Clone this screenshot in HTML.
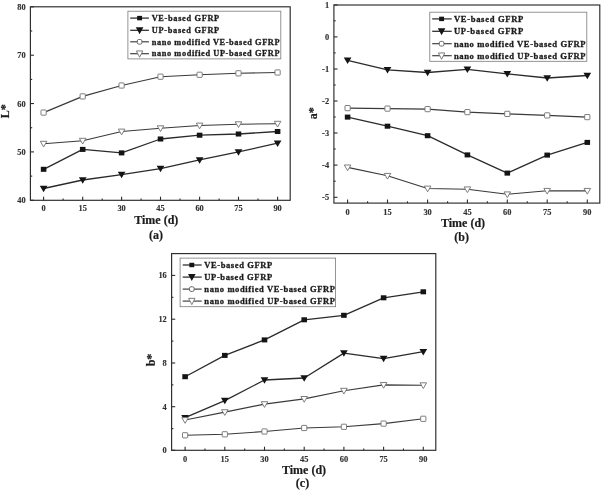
<!DOCTYPE html>
<html><head><meta charset="utf-8"><title>Figure</title>
<style>
html,body{margin:0;padding:0;background:#fff;}
svg{display:block;font-family:"Liberation Serif", "DejaVu Serif", serif;filter:blur(0.35px);}
</style></head><body>
<svg width="602" height="491" viewBox="0 0 602 491">
<rect x="0" y="0" width="602" height="491" fill="#fff"/>
<rect x="30.4" y="6.8" width="259.80" height="193.50" fill="none" stroke="#2b2b2b" stroke-width="1.15"/>
<line x1="43.60" y1="200.3" x2="43.60" y2="196.70000000000002" stroke="#2b2b2b" stroke-width="1.1"/>
<text transform="translate(43.60,211.00) scale(1.12,1)" font-size="7.5" text-anchor="middle" font-weight="bold" fill="#303030" stroke="#303030" stroke-width="0.12" >0</text>
<line x1="63.10" y1="200.3" x2="63.10" y2="198.5" stroke="#2b2b2b" stroke-width="1.1"/>
<line x1="82.70" y1="200.3" x2="82.70" y2="196.70000000000002" stroke="#2b2b2b" stroke-width="1.1"/>
<text transform="translate(82.70,211.00) scale(1.12,1)" font-size="7.5" text-anchor="middle" font-weight="bold" fill="#303030" stroke="#303030" stroke-width="0.12" >15</text>
<line x1="102.20" y1="200.3" x2="102.20" y2="198.5" stroke="#2b2b2b" stroke-width="1.1"/>
<line x1="121.60" y1="200.3" x2="121.60" y2="196.70000000000002" stroke="#2b2b2b" stroke-width="1.1"/>
<text transform="translate(121.60,211.00) scale(1.12,1)" font-size="7.5" text-anchor="middle" font-weight="bold" fill="#303030" stroke="#303030" stroke-width="0.12" >30</text>
<line x1="141.10" y1="200.3" x2="141.10" y2="198.5" stroke="#2b2b2b" stroke-width="1.1"/>
<line x1="160.50" y1="200.3" x2="160.50" y2="196.70000000000002" stroke="#2b2b2b" stroke-width="1.1"/>
<text transform="translate(160.50,211.00) scale(1.12,1)" font-size="7.5" text-anchor="middle" font-weight="bold" fill="#303030" stroke="#303030" stroke-width="0.12" >45</text>
<line x1="180.00" y1="200.3" x2="180.00" y2="198.5" stroke="#2b2b2b" stroke-width="1.1"/>
<line x1="199.60" y1="200.3" x2="199.60" y2="196.70000000000002" stroke="#2b2b2b" stroke-width="1.1"/>
<text transform="translate(199.60,211.00) scale(1.12,1)" font-size="7.5" text-anchor="middle" font-weight="bold" fill="#303030" stroke="#303030" stroke-width="0.12" >60</text>
<line x1="219.10" y1="200.3" x2="219.10" y2="198.5" stroke="#2b2b2b" stroke-width="1.1"/>
<line x1="238.50" y1="200.3" x2="238.50" y2="196.70000000000002" stroke="#2b2b2b" stroke-width="1.1"/>
<text transform="translate(238.50,211.00) scale(1.12,1)" font-size="7.5" text-anchor="middle" font-weight="bold" fill="#303030" stroke="#303030" stroke-width="0.12" >75</text>
<line x1="258.00" y1="200.3" x2="258.00" y2="198.5" stroke="#2b2b2b" stroke-width="1.1"/>
<line x1="277.60" y1="200.3" x2="277.60" y2="196.70000000000002" stroke="#2b2b2b" stroke-width="1.1"/>
<text transform="translate(277.60,211.00) scale(1.12,1)" font-size="7.5" text-anchor="middle" font-weight="bold" fill="#303030" stroke="#303030" stroke-width="0.12" >90</text>
<line x1="30.4" y1="6.80" x2="34.0" y2="6.80" stroke="#2b2b2b" stroke-width="1.1"/>
<text transform="translate(25.60,9.80) scale(1.12,1)" font-size="7.5" text-anchor="end" font-weight="bold" fill="#303030" stroke="#303030" stroke-width="0.12" >80</text>
<line x1="30.4" y1="55.20" x2="34.0" y2="55.20" stroke="#2b2b2b" stroke-width="1.1"/>
<text transform="translate(25.60,58.20) scale(1.12,1)" font-size="7.5" text-anchor="end" font-weight="bold" fill="#303030" stroke="#303030" stroke-width="0.12" >70</text>
<line x1="30.4" y1="103.55" x2="34.0" y2="103.55" stroke="#2b2b2b" stroke-width="1.1"/>
<text transform="translate(25.60,106.55) scale(1.12,1)" font-size="7.5" text-anchor="end" font-weight="bold" fill="#303030" stroke="#303030" stroke-width="0.12" >60</text>
<line x1="30.4" y1="151.90" x2="34.0" y2="151.90" stroke="#2b2b2b" stroke-width="1.1"/>
<text transform="translate(25.60,154.90) scale(1.12,1)" font-size="7.5" text-anchor="end" font-weight="bold" fill="#303030" stroke="#303030" stroke-width="0.12" >50</text>
<line x1="30.4" y1="200.30" x2="34.0" y2="200.30" stroke="#2b2b2b" stroke-width="1.1"/>
<text transform="translate(25.60,203.30) scale(1.12,1)" font-size="7.5" text-anchor="end" font-weight="bold" fill="#303030" stroke="#303030" stroke-width="0.12" >40</text>
<line x1="30.4" y1="31.00" x2="32.199999999999996" y2="31.00" stroke="#2b2b2b" stroke-width="1.1"/>
<line x1="30.4" y1="79.40" x2="32.199999999999996" y2="79.40" stroke="#2b2b2b" stroke-width="1.1"/>
<line x1="30.4" y1="127.75" x2="32.199999999999996" y2="127.75" stroke="#2b2b2b" stroke-width="1.1"/>
<line x1="30.4" y1="176.10" x2="32.199999999999996" y2="176.10" stroke="#2b2b2b" stroke-width="1.1"/>
<polyline points="43.60,169.30 82.70,149.40 121.60,152.90 160.50,139.00 199.60,135.20 238.50,134.00 277.60,131.50" fill="none" stroke="#2b2b2b" stroke-width="1.3" stroke-linejoin="round"/>
<rect x="40.82" y="166.78" width="5.56" height="5.04" fill="#141414"/>
<rect x="79.92" y="146.88" width="5.56" height="5.04" fill="#141414"/>
<rect x="118.82" y="150.38" width="5.56" height="5.04" fill="#141414"/>
<rect x="157.72" y="136.48" width="5.56" height="5.04" fill="#141414"/>
<rect x="196.82" y="132.68" width="5.56" height="5.04" fill="#141414"/>
<rect x="235.72" y="131.48" width="5.56" height="5.04" fill="#141414"/>
<rect x="274.82" y="128.98" width="5.56" height="5.04" fill="#141414"/>
<polyline points="43.60,188.50 82.70,180.00 121.60,174.60 160.50,168.60 199.60,159.90 238.50,151.90 277.60,143.20" fill="none" stroke="#2b2b2b" stroke-width="1.3" stroke-linejoin="round"/>
<polygon points="39.75,185.77 47.45,185.77 43.60,192.27" fill="#141414"/>
<polygon points="78.85,177.27 86.55,177.27 82.70,183.77" fill="#141414"/>
<polygon points="117.75,171.87 125.45,171.87 121.60,178.37" fill="#141414"/>
<polygon points="156.65,165.87 164.35,165.87 160.50,172.37" fill="#141414"/>
<polygon points="195.75,157.17 203.45,157.17 199.60,163.67" fill="#141414"/>
<polygon points="234.65,149.17 242.35,149.17 238.50,155.67" fill="#141414"/>
<polygon points="273.75,140.47 281.45,140.47 277.60,146.97" fill="#141414"/>
<polyline points="43.60,112.60 82.70,96.40 121.60,85.50 160.50,76.70 199.60,74.80 238.50,73.30 277.60,72.50" fill="none" stroke="#3a3a3a" stroke-width="1.15" stroke-linejoin="round"/>
<rect x="41.00" y="110.00" width="5.20" height="5.20" rx="0.5" fill="#fff" stroke="#777" stroke-width="0.95"/>
<rect x="80.10" y="93.80" width="5.20" height="5.20" rx="0.5" fill="#fff" stroke="#777" stroke-width="0.95"/>
<rect x="119.00" y="82.90" width="5.20" height="5.20" rx="0.5" fill="#fff" stroke="#777" stroke-width="0.95"/>
<rect x="157.90" y="74.10" width="5.20" height="5.20" rx="0.5" fill="#fff" stroke="#777" stroke-width="0.95"/>
<rect x="197.00" y="72.20" width="5.20" height="5.20" rx="0.5" fill="#fff" stroke="#777" stroke-width="0.95"/>
<rect x="235.90" y="70.70" width="5.20" height="5.20" rx="0.5" fill="#fff" stroke="#777" stroke-width="0.95"/>
<rect x="275.00" y="69.90" width="5.20" height="5.20" rx="0.5" fill="#fff" stroke="#777" stroke-width="0.95"/>
<polyline points="43.60,143.70 82.70,140.70 121.60,131.50 160.50,128.20 199.60,125.50 238.50,124.20 277.60,123.70" fill="none" stroke="#3a3a3a" stroke-width="1.15" stroke-linejoin="round"/>
<polygon points="40.30,141.31 46.90,141.31 43.60,147.01" fill="#fff" stroke="#777" stroke-width="0.95"/>
<polygon points="79.40,138.31 86.00,138.31 82.70,144.01" fill="#fff" stroke="#777" stroke-width="0.95"/>
<polygon points="118.30,129.11 124.90,129.11 121.60,134.81" fill="#fff" stroke="#777" stroke-width="0.95"/>
<polygon points="157.20,125.81 163.80,125.81 160.50,131.51" fill="#fff" stroke="#777" stroke-width="0.95"/>
<polygon points="196.30,123.11 202.90,123.11 199.60,128.81" fill="#fff" stroke="#777" stroke-width="0.95"/>
<polygon points="235.20,121.81 241.80,121.81 238.50,127.51" fill="#fff" stroke="#777" stroke-width="0.95"/>
<polygon points="274.30,121.31 280.90,121.31 277.60,127.01" fill="#fff" stroke="#777" stroke-width="0.95"/>
<rect x="127.9" y="11.2" width="152.90" height="47.70" fill="#fff" stroke="#7a7a7a" stroke-width="0.8"/>
<line x1="130.2" y1="18.10" x2="148.9" y2="18.10" stroke="#2b2b2b" stroke-width="1.25"/>
<rect x="137.14" y="15.87" width="4.92" height="4.46" fill="#141414"/>
<text transform="translate(151.70,20.84) scale(1.0,1)" font-size="8.3" text-anchor="start" font-weight="bold" fill="#1c1c1c" stroke="#1c1c1c" stroke-width="0.3" textLength="67.5" lengthAdjust="spacing">VE-based GFRP</text>
<line x1="130.2" y1="30.30" x2="148.9" y2="30.30" stroke="#2b2b2b" stroke-width="1.25"/>
<polygon points="135.80,27.16 143.40,27.16 139.60,34.16" fill="#141414"/>
<text transform="translate(151.70,33.04) scale(1.0,1)" font-size="8.3" text-anchor="start" font-weight="bold" fill="#1c1c1c" stroke="#1c1c1c" stroke-width="0.3" textLength="67.5" lengthAdjust="spacing">UP-based GFRP</text>
<line x1="130.2" y1="41.80" x2="148.9" y2="41.80" stroke="#3a3a3a" stroke-width="1.15"/>
<rect x="137.30" y="39.50" width="4.6" height="4.6" rx="1.4" fill="#fff" stroke="#5a5a5a" stroke-width="0.9"/>
<text transform="translate(151.70,44.54) scale(1.0,1)" font-size="8.3" text-anchor="start" font-weight="bold" fill="#1c1c1c" stroke="#1c1c1c" stroke-width="0.3" textLength="127.8" lengthAdjust="spacing">nano modified VE-based GFRP</text>
<line x1="130.2" y1="53.70" x2="148.9" y2="53.70" stroke="#3a3a3a" stroke-width="1.15"/>
<polygon points="136.40,50.95 142.80,50.95 139.60,57.25" fill="#fff" stroke="#777" stroke-width="0.95"/>
<text transform="translate(151.70,56.44) scale(1.0,1)" font-size="8.3" text-anchor="start" font-weight="bold" fill="#1c1c1c" stroke="#1c1c1c" stroke-width="0.3" textLength="127.8" lengthAdjust="spacing">nano modified UP-based GFRP</text>
<text transform="translate(156.30,223.70) scale(1.0,1)" font-size="12" text-anchor="middle" font-weight="bold" fill="#1c1c1c" stroke="#1c1c1c" stroke-width="0.2" >Time (d)</text>
<text transform="translate(156.00,238.80) scale(1.0,1)" font-size="12" text-anchor="middle" font-weight="bold" fill="#1c1c1c" stroke="#1c1c1c" stroke-width="0.2" >(a)</text>
<text transform="translate(9.4,111.3) rotate(-90)" font-size="12" font-weight="bold" text-anchor="middle" fill="#1c1c1c" stroke="#1c1c1c" stroke-width="0.2">L*</text>
<rect x="333.9" y="5.0" width="265.90" height="198.10" fill="none" stroke="#2b2b2b" stroke-width="1.15"/>
<line x1="347.60" y1="203.1" x2="347.60" y2="199.5" stroke="#2b2b2b" stroke-width="1.1"/>
<text transform="translate(347.60,215.00) scale(1.12,1)" font-size="7.5" text-anchor="middle" font-weight="bold" fill="#303030" stroke="#303030" stroke-width="0.12" >0</text>
<line x1="367.58" y1="203.1" x2="367.58" y2="201.29999999999998" stroke="#2b2b2b" stroke-width="1.1"/>
<line x1="387.50" y1="203.1" x2="387.50" y2="199.5" stroke="#2b2b2b" stroke-width="1.1"/>
<text transform="translate(387.50,215.00) scale(1.12,1)" font-size="7.5" text-anchor="middle" font-weight="bold" fill="#303030" stroke="#303030" stroke-width="0.12" >15</text>
<line x1="407.48" y1="203.1" x2="407.48" y2="201.29999999999998" stroke="#2b2b2b" stroke-width="1.1"/>
<line x1="427.60" y1="203.1" x2="427.60" y2="199.5" stroke="#2b2b2b" stroke-width="1.1"/>
<text transform="translate(427.60,215.00) scale(1.12,1)" font-size="7.5" text-anchor="middle" font-weight="bold" fill="#303030" stroke="#303030" stroke-width="0.12" >30</text>
<line x1="447.58" y1="203.1" x2="447.58" y2="201.29999999999998" stroke="#2b2b2b" stroke-width="1.1"/>
<line x1="467.40" y1="203.1" x2="467.40" y2="199.5" stroke="#2b2b2b" stroke-width="1.1"/>
<text transform="translate(467.40,215.00) scale(1.12,1)" font-size="7.5" text-anchor="middle" font-weight="bold" fill="#303030" stroke="#303030" stroke-width="0.12" >45</text>
<line x1="487.38" y1="203.1" x2="487.38" y2="201.29999999999998" stroke="#2b2b2b" stroke-width="1.1"/>
<line x1="507.30" y1="203.1" x2="507.30" y2="199.5" stroke="#2b2b2b" stroke-width="1.1"/>
<text transform="translate(507.30,215.00) scale(1.12,1)" font-size="7.5" text-anchor="middle" font-weight="bold" fill="#303030" stroke="#303030" stroke-width="0.12" >60</text>
<line x1="527.27" y1="203.1" x2="527.27" y2="201.29999999999998" stroke="#2b2b2b" stroke-width="1.1"/>
<line x1="547.20" y1="203.1" x2="547.20" y2="199.5" stroke="#2b2b2b" stroke-width="1.1"/>
<text transform="translate(547.20,215.00) scale(1.12,1)" font-size="7.5" text-anchor="middle" font-weight="bold" fill="#303030" stroke="#303030" stroke-width="0.12" >75</text>
<line x1="567.18" y1="203.1" x2="567.18" y2="201.29999999999998" stroke="#2b2b2b" stroke-width="1.1"/>
<line x1="587.30" y1="203.1" x2="587.30" y2="199.5" stroke="#2b2b2b" stroke-width="1.1"/>
<text transform="translate(587.30,215.00) scale(1.12,1)" font-size="7.5" text-anchor="middle" font-weight="bold" fill="#303030" stroke="#303030" stroke-width="0.12" >90</text>
<line x1="333.9" y1="5.00" x2="337.5" y2="5.00" stroke="#2b2b2b" stroke-width="1.1"/>
<text transform="translate(329.10,8.00) scale(1.12,1)" font-size="7.5" text-anchor="end" font-weight="bold" fill="#303030" stroke="#303030" stroke-width="0.12" >1</text>
<line x1="333.9" y1="36.90" x2="337.5" y2="36.90" stroke="#2b2b2b" stroke-width="1.1"/>
<text transform="translate(329.10,39.90) scale(1.12,1)" font-size="7.5" text-anchor="end" font-weight="bold" fill="#303030" stroke="#303030" stroke-width="0.12" >0</text>
<line x1="333.9" y1="69.00" x2="337.5" y2="69.00" stroke="#2b2b2b" stroke-width="1.1"/>
<text transform="translate(329.10,72.00) scale(1.12,1)" font-size="7.5" text-anchor="end" font-weight="bold" fill="#303030" stroke="#303030" stroke-width="0.12" >-1</text>
<line x1="333.9" y1="101.00" x2="337.5" y2="101.00" stroke="#2b2b2b" stroke-width="1.1"/>
<text transform="translate(329.10,104.00) scale(1.12,1)" font-size="7.5" text-anchor="end" font-weight="bold" fill="#303030" stroke="#303030" stroke-width="0.12" >-2</text>
<line x1="333.9" y1="133.00" x2="337.5" y2="133.00" stroke="#2b2b2b" stroke-width="1.1"/>
<text transform="translate(329.10,136.00) scale(1.12,1)" font-size="7.5" text-anchor="end" font-weight="bold" fill="#303030" stroke="#303030" stroke-width="0.12" >-3</text>
<line x1="333.9" y1="165.10" x2="337.5" y2="165.10" stroke="#2b2b2b" stroke-width="1.1"/>
<text transform="translate(329.10,168.10) scale(1.12,1)" font-size="7.5" text-anchor="end" font-weight="bold" fill="#303030" stroke="#303030" stroke-width="0.12" >-4</text>
<line x1="333.9" y1="197.30" x2="337.5" y2="197.30" stroke="#2b2b2b" stroke-width="1.1"/>
<text transform="translate(329.10,200.30) scale(1.12,1)" font-size="7.5" text-anchor="end" font-weight="bold" fill="#303030" stroke="#303030" stroke-width="0.12" >-5</text>
<line x1="333.9" y1="20.80" x2="335.7" y2="20.80" stroke="#2b2b2b" stroke-width="1.1"/>
<line x1="333.9" y1="52.90" x2="335.7" y2="52.90" stroke="#2b2b2b" stroke-width="1.1"/>
<line x1="333.9" y1="85.00" x2="335.7" y2="85.00" stroke="#2b2b2b" stroke-width="1.1"/>
<line x1="333.9" y1="117.00" x2="335.7" y2="117.00" stroke="#2b2b2b" stroke-width="1.1"/>
<line x1="333.9" y1="149.00" x2="335.7" y2="149.00" stroke="#2b2b2b" stroke-width="1.1"/>
<line x1="333.9" y1="181.20" x2="335.7" y2="181.20" stroke="#2b2b2b" stroke-width="1.1"/>
<polyline points="347.60,60.30 387.50,69.80 427.60,72.50 467.40,69.30 507.30,73.80 547.20,78.00 587.30,75.50" fill="none" stroke="#2b2b2b" stroke-width="1.3" stroke-linejoin="round"/>
<polygon points="343.75,57.57 351.45,57.57 347.60,64.07" fill="#141414"/>
<polygon points="383.65,67.07 391.35,67.07 387.50,73.57" fill="#141414"/>
<polygon points="423.75,69.77 431.45,69.77 427.60,76.27" fill="#141414"/>
<polygon points="463.55,66.57 471.25,66.57 467.40,73.07" fill="#141414"/>
<polygon points="503.45,71.07 511.15,71.07 507.30,77.57" fill="#141414"/>
<polygon points="543.35,75.27 551.05,75.27 547.20,81.77" fill="#141414"/>
<polygon points="583.45,72.77 591.15,72.77 587.30,79.27" fill="#141414"/>
<polyline points="347.60,108.10 387.50,108.60 427.60,109.10 467.40,112.10 507.30,113.90 547.20,115.40 587.30,117.10" fill="none" stroke="#3a3a3a" stroke-width="1.15" stroke-linejoin="round"/>
<rect x="345.00" y="105.50" width="5.20" height="5.20" rx="0.5" fill="#fff" stroke="#777" stroke-width="0.95"/>
<rect x="384.90" y="106.00" width="5.20" height="5.20" rx="0.5" fill="#fff" stroke="#777" stroke-width="0.95"/>
<rect x="425.00" y="106.50" width="5.20" height="5.20" rx="0.5" fill="#fff" stroke="#777" stroke-width="0.95"/>
<rect x="464.80" y="109.50" width="5.20" height="5.20" rx="0.5" fill="#fff" stroke="#777" stroke-width="0.95"/>
<rect x="504.70" y="111.30" width="5.20" height="5.20" rx="0.5" fill="#fff" stroke="#777" stroke-width="0.95"/>
<rect x="544.60" y="112.80" width="5.20" height="5.20" rx="0.5" fill="#fff" stroke="#777" stroke-width="0.95"/>
<rect x="584.70" y="114.50" width="5.20" height="5.20" rx="0.5" fill="#fff" stroke="#777" stroke-width="0.95"/>
<polyline points="347.60,117.10 387.50,126.20 427.60,135.70 467.40,154.90 507.30,173.10 547.20,155.10 587.30,142.40" fill="none" stroke="#2b2b2b" stroke-width="1.3" stroke-linejoin="round"/>
<rect x="344.82" y="114.58" width="5.56" height="5.04" fill="#141414"/>
<rect x="384.72" y="123.68" width="5.56" height="5.04" fill="#141414"/>
<rect x="424.82" y="133.18" width="5.56" height="5.04" fill="#141414"/>
<rect x="464.62" y="152.38" width="5.56" height="5.04" fill="#141414"/>
<rect x="504.52" y="170.58" width="5.56" height="5.04" fill="#141414"/>
<rect x="544.42" y="152.58" width="5.56" height="5.04" fill="#141414"/>
<rect x="584.52" y="139.88" width="5.56" height="5.04" fill="#141414"/>
<polyline points="347.60,167.40 387.50,175.80 427.60,188.50 467.40,189.30 507.30,194.30 547.20,190.80 587.30,190.80" fill="none" stroke="#3a3a3a" stroke-width="1.15" stroke-linejoin="round"/>
<polygon points="344.30,165.01 350.90,165.01 347.60,170.71" fill="#fff" stroke="#777" stroke-width="0.95"/>
<polygon points="384.20,173.41 390.80,173.41 387.50,179.11" fill="#fff" stroke="#777" stroke-width="0.95"/>
<polygon points="424.30,186.11 430.90,186.11 427.60,191.81" fill="#fff" stroke="#777" stroke-width="0.95"/>
<polygon points="464.10,186.91 470.70,186.91 467.40,192.61" fill="#fff" stroke="#777" stroke-width="0.95"/>
<polygon points="504.00,191.91 510.60,191.91 507.30,197.61" fill="#fff" stroke="#777" stroke-width="0.95"/>
<polygon points="543.90,188.41 550.50,188.41 547.20,194.11" fill="#fff" stroke="#777" stroke-width="0.95"/>
<polygon points="584.00,188.41 590.60,188.41 587.30,194.11" fill="#fff" stroke="#777" stroke-width="0.95"/>
<rect x="429.8" y="12.2" width="157.00" height="49.10" fill="#fff" stroke="#7a7a7a" stroke-width="0.8"/>
<line x1="432.2" y1="18.90" x2="451.7" y2="18.90" stroke="#2b2b2b" stroke-width="1.25"/>
<rect x="439.14" y="16.67" width="4.92" height="4.46" fill="#141414"/>
<text transform="translate(453.90,21.74) scale(1.0,1)" font-size="8.6" text-anchor="start" font-weight="bold" fill="#1c1c1c" stroke="#1c1c1c" stroke-width="0.3" textLength="69.4" lengthAdjust="spacing">VE-based GFRP</text>
<line x1="432.2" y1="31.30" x2="451.7" y2="31.30" stroke="#2b2b2b" stroke-width="1.25"/>
<polygon points="437.80,28.16 445.40,28.16 441.60,35.16" fill="#141414"/>
<text transform="translate(453.90,34.14) scale(1.0,1)" font-size="8.6" text-anchor="start" font-weight="bold" fill="#1c1c1c" stroke="#1c1c1c" stroke-width="0.3" textLength="69.4" lengthAdjust="spacing">UP-based GFRP</text>
<line x1="432.2" y1="43.70" x2="451.7" y2="43.70" stroke="#3a3a3a" stroke-width="1.15"/>
<rect x="439.30" y="41.40" width="4.6" height="4.6" rx="1.4" fill="#fff" stroke="#5a5a5a" stroke-width="0.9"/>
<text transform="translate(453.90,46.54) scale(1.0,1)" font-size="8.6" text-anchor="start" font-weight="bold" fill="#1c1c1c" stroke="#1c1c1c" stroke-width="0.3" textLength="131.7" lengthAdjust="spacing">nano modified VE-based GFRP</text>
<line x1="432.2" y1="55.70" x2="451.7" y2="55.70" stroke="#3a3a3a" stroke-width="1.15"/>
<polygon points="438.40,52.95 444.80,52.95 441.60,59.25" fill="#fff" stroke="#777" stroke-width="0.95"/>
<text transform="translate(453.90,58.54) scale(1.0,1)" font-size="8.6" text-anchor="start" font-weight="bold" fill="#1c1c1c" stroke="#1c1c1c" stroke-width="0.3" textLength="131.7" lengthAdjust="spacing">nano modified UP-based GFRP</text>
<text transform="translate(463.00,226.50) scale(1.0,1)" font-size="12" text-anchor="middle" font-weight="bold" fill="#1c1c1c" stroke="#1c1c1c" stroke-width="0.2" >Time (d)</text>
<text transform="translate(461.70,240.50) scale(1.0,1)" font-size="12" text-anchor="middle" font-weight="bold" fill="#1c1c1c" stroke="#1c1c1c" stroke-width="0.2" >(b)</text>
<text transform="translate(317.0,113.3) rotate(-90)" font-size="12" font-weight="bold" text-anchor="middle" fill="#1c1c1c" stroke="#1c1c1c" stroke-width="0.2">a*</text>
<rect x="171.6" y="253.6" width="264.20" height="196.70" fill="none" stroke="#2b2b2b" stroke-width="1.15"/>
<line x1="185.10" y1="450.3" x2="185.10" y2="446.7" stroke="#2b2b2b" stroke-width="1.1"/>
<text transform="translate(185.10,462.00) scale(1.12,1)" font-size="7.5" text-anchor="middle" font-weight="bold" fill="#303030" stroke="#303030" stroke-width="0.12" >0</text>
<line x1="204.95" y1="450.3" x2="204.95" y2="448.5" stroke="#2b2b2b" stroke-width="1.1"/>
<line x1="224.80" y1="450.3" x2="224.80" y2="446.7" stroke="#2b2b2b" stroke-width="1.1"/>
<text transform="translate(224.80,462.00) scale(1.12,1)" font-size="7.5" text-anchor="middle" font-weight="bold" fill="#303030" stroke="#303030" stroke-width="0.12" >15</text>
<line x1="244.65" y1="450.3" x2="244.65" y2="448.5" stroke="#2b2b2b" stroke-width="1.1"/>
<line x1="264.50" y1="450.3" x2="264.50" y2="446.7" stroke="#2b2b2b" stroke-width="1.1"/>
<text transform="translate(264.50,462.00) scale(1.12,1)" font-size="7.5" text-anchor="middle" font-weight="bold" fill="#303030" stroke="#303030" stroke-width="0.12" >30</text>
<line x1="284.35" y1="450.3" x2="284.35" y2="448.5" stroke="#2b2b2b" stroke-width="1.1"/>
<line x1="304.20" y1="450.3" x2="304.20" y2="446.7" stroke="#2b2b2b" stroke-width="1.1"/>
<text transform="translate(304.20,462.00) scale(1.12,1)" font-size="7.5" text-anchor="middle" font-weight="bold" fill="#303030" stroke="#303030" stroke-width="0.12" >45</text>
<line x1="324.05" y1="450.3" x2="324.05" y2="448.5" stroke="#2b2b2b" stroke-width="1.1"/>
<line x1="343.90" y1="450.3" x2="343.90" y2="446.7" stroke="#2b2b2b" stroke-width="1.1"/>
<text transform="translate(343.90,462.00) scale(1.12,1)" font-size="7.5" text-anchor="middle" font-weight="bold" fill="#303030" stroke="#303030" stroke-width="0.12" >60</text>
<line x1="363.75" y1="450.3" x2="363.75" y2="448.5" stroke="#2b2b2b" stroke-width="1.1"/>
<line x1="383.60" y1="450.3" x2="383.60" y2="446.7" stroke="#2b2b2b" stroke-width="1.1"/>
<text transform="translate(383.60,462.00) scale(1.12,1)" font-size="7.5" text-anchor="middle" font-weight="bold" fill="#303030" stroke="#303030" stroke-width="0.12" >75</text>
<line x1="403.45" y1="450.3" x2="403.45" y2="448.5" stroke="#2b2b2b" stroke-width="1.1"/>
<line x1="423.30" y1="450.3" x2="423.30" y2="446.7" stroke="#2b2b2b" stroke-width="1.1"/>
<text transform="translate(423.30,462.00) scale(1.12,1)" font-size="7.5" text-anchor="middle" font-weight="bold" fill="#303030" stroke="#303030" stroke-width="0.12" >90</text>
<line x1="171.6" y1="275.40" x2="175.2" y2="275.40" stroke="#2b2b2b" stroke-width="1.1"/>
<text transform="translate(166.80,278.40) scale(1.12,1)" font-size="7.5" text-anchor="end" font-weight="bold" fill="#303030" stroke="#303030" stroke-width="0.12" >16</text>
<line x1="171.6" y1="319.20" x2="175.2" y2="319.20" stroke="#2b2b2b" stroke-width="1.1"/>
<text transform="translate(166.80,322.20) scale(1.12,1)" font-size="7.5" text-anchor="end" font-weight="bold" fill="#303030" stroke="#303030" stroke-width="0.12" >12</text>
<line x1="171.6" y1="363.00" x2="175.2" y2="363.00" stroke="#2b2b2b" stroke-width="1.1"/>
<text transform="translate(166.80,366.00) scale(1.12,1)" font-size="7.5" text-anchor="end" font-weight="bold" fill="#303030" stroke="#303030" stroke-width="0.12" >8</text>
<line x1="171.6" y1="406.70" x2="175.2" y2="406.70" stroke="#2b2b2b" stroke-width="1.1"/>
<text transform="translate(166.80,409.70) scale(1.12,1)" font-size="7.5" text-anchor="end" font-weight="bold" fill="#303030" stroke="#303030" stroke-width="0.12" >4</text>
<line x1="171.6" y1="450.30" x2="175.2" y2="450.30" stroke="#2b2b2b" stroke-width="1.1"/>
<text transform="translate(166.80,453.30) scale(1.12,1)" font-size="7.5" text-anchor="end" font-weight="bold" fill="#303030" stroke="#303030" stroke-width="0.12" >0</text>
<line x1="171.6" y1="297.30" x2="173.4" y2="297.30" stroke="#2b2b2b" stroke-width="1.1"/>
<line x1="171.6" y1="341.10" x2="173.4" y2="341.10" stroke="#2b2b2b" stroke-width="1.1"/>
<line x1="171.6" y1="384.90" x2="173.4" y2="384.90" stroke="#2b2b2b" stroke-width="1.1"/>
<line x1="171.6" y1="428.60" x2="173.4" y2="428.60" stroke="#2b2b2b" stroke-width="1.1"/>
<polyline points="185.10,376.70 224.80,355.40 264.50,339.90 304.20,319.80 343.90,315.30 383.60,297.80 423.30,291.80" fill="none" stroke="#2b2b2b" stroke-width="1.3" stroke-linejoin="round"/>
<rect x="182.32" y="374.18" width="5.56" height="5.04" fill="#141414"/>
<rect x="222.02" y="352.88" width="5.56" height="5.04" fill="#141414"/>
<rect x="261.72" y="337.38" width="5.56" height="5.04" fill="#141414"/>
<rect x="301.42" y="317.28" width="5.56" height="5.04" fill="#141414"/>
<rect x="341.12" y="312.78" width="5.56" height="5.04" fill="#141414"/>
<rect x="380.82" y="295.28" width="5.56" height="5.04" fill="#141414"/>
<rect x="420.52" y="289.28" width="5.56" height="5.04" fill="#141414"/>
<polyline points="185.10,417.70 224.80,400.60 264.50,380.00 304.20,378.00 343.90,353.10 383.60,358.60 423.30,351.70" fill="none" stroke="#2b2b2b" stroke-width="1.3" stroke-linejoin="round"/>
<polygon points="181.25,414.97 188.95,414.97 185.10,421.47" fill="#141414"/>
<polygon points="220.95,397.87 228.65,397.87 224.80,404.37" fill="#141414"/>
<polygon points="260.65,377.27 268.35,377.27 264.50,383.77" fill="#141414"/>
<polygon points="300.35,375.27 308.05,375.27 304.20,381.77" fill="#141414"/>
<polygon points="340.05,350.37 347.75,350.37 343.90,356.87" fill="#141414"/>
<polygon points="379.75,355.87 387.45,355.87 383.60,362.37" fill="#141414"/>
<polygon points="419.45,348.97 427.15,348.97 423.30,355.47" fill="#141414"/>
<polyline points="185.10,420.00 224.80,412.10 264.50,404.10 304.20,398.90 343.90,390.70 383.60,384.90 423.30,385.20" fill="none" stroke="#3a3a3a" stroke-width="1.15" stroke-linejoin="round"/>
<polygon points="181.80,417.61 188.40,417.61 185.10,423.31" fill="#fff" stroke="#777" stroke-width="0.95"/>
<polygon points="221.50,409.71 228.10,409.71 224.80,415.41" fill="#fff" stroke="#777" stroke-width="0.95"/>
<polygon points="261.20,401.71 267.80,401.71 264.50,407.41" fill="#fff" stroke="#777" stroke-width="0.95"/>
<polygon points="300.90,396.51 307.50,396.51 304.20,402.21" fill="#fff" stroke="#777" stroke-width="0.95"/>
<polygon points="340.60,388.31 347.20,388.31 343.90,394.01" fill="#fff" stroke="#777" stroke-width="0.95"/>
<polygon points="380.30,382.51 386.90,382.51 383.60,388.21" fill="#fff" stroke="#777" stroke-width="0.95"/>
<polygon points="420.00,382.81 426.60,382.81 423.30,388.51" fill="#fff" stroke="#777" stroke-width="0.95"/>
<polyline points="185.10,435.30 224.80,434.30 264.50,431.50 304.20,428.00 343.90,426.80 383.60,423.60 423.30,418.80" fill="none" stroke="#3a3a3a" stroke-width="1.15" stroke-linejoin="round"/>
<rect x="182.50" y="432.70" width="5.20" height="5.20" rx="0.5" fill="#fff" stroke="#777" stroke-width="0.95"/>
<rect x="222.20" y="431.70" width="5.20" height="5.20" rx="0.5" fill="#fff" stroke="#777" stroke-width="0.95"/>
<rect x="261.90" y="428.90" width="5.20" height="5.20" rx="0.5" fill="#fff" stroke="#777" stroke-width="0.95"/>
<rect x="301.60" y="425.40" width="5.20" height="5.20" rx="0.5" fill="#fff" stroke="#777" stroke-width="0.95"/>
<rect x="341.30" y="424.20" width="5.20" height="5.20" rx="0.5" fill="#fff" stroke="#777" stroke-width="0.95"/>
<rect x="381.00" y="421.00" width="5.20" height="5.20" rx="0.5" fill="#fff" stroke="#777" stroke-width="0.95"/>
<rect x="420.70" y="416.20" width="5.20" height="5.20" rx="0.5" fill="#fff" stroke="#777" stroke-width="0.95"/>
<rect x="180.1" y="258.1" width="155.50" height="48.60" fill="#fff" stroke="#7a7a7a" stroke-width="0.8"/>
<line x1="182.7" y1="265.00" x2="201.7" y2="265.00" stroke="#2b2b2b" stroke-width="1.25"/>
<rect x="189.34" y="262.77" width="4.92" height="4.46" fill="#141414"/>
<text transform="translate(204.30,267.81) scale(1.0,1)" font-size="8.5" text-anchor="start" font-weight="bold" fill="#1c1c1c" stroke="#1c1c1c" stroke-width="0.3" textLength="67.8" lengthAdjust="spacing">VE-based GFRP</text>
<line x1="182.7" y1="277.10" x2="201.7" y2="277.10" stroke="#2b2b2b" stroke-width="1.25"/>
<polygon points="188.00,273.96 195.60,273.96 191.80,280.96" fill="#141414"/>
<text transform="translate(204.30,279.91) scale(1.0,1)" font-size="8.5" text-anchor="start" font-weight="bold" fill="#1c1c1c" stroke="#1c1c1c" stroke-width="0.3" textLength="67.8" lengthAdjust="spacing">UP-based GFRP</text>
<line x1="182.7" y1="289.10" x2="201.7" y2="289.10" stroke="#3a3a3a" stroke-width="1.15"/>
<rect x="189.50" y="286.80" width="4.6" height="4.6" rx="1.4" fill="#fff" stroke="#5a5a5a" stroke-width="0.9"/>
<text transform="translate(204.30,291.91) scale(1.0,1)" font-size="8.5" text-anchor="start" font-weight="bold" fill="#1c1c1c" stroke="#1c1c1c" stroke-width="0.3" textLength="130.6" lengthAdjust="spacing">nano modified VE-based GFRP</text>
<line x1="182.7" y1="301.10" x2="201.7" y2="301.10" stroke="#3a3a3a" stroke-width="1.15"/>
<polygon points="188.60,298.35 195.00,298.35 191.80,304.65" fill="#fff" stroke="#777" stroke-width="0.95"/>
<text transform="translate(204.30,303.91) scale(1.0,1)" font-size="8.5" text-anchor="start" font-weight="bold" fill="#1c1c1c" stroke="#1c1c1c" stroke-width="0.3" textLength="130.6" lengthAdjust="spacing">nano modified UP-based GFRP</text>
<text transform="translate(304.00,473.80) scale(1.0,1)" font-size="12" text-anchor="middle" font-weight="bold" fill="#1c1c1c" stroke="#1c1c1c" stroke-width="0.2" >Time (d)</text>
<text transform="translate(302.50,486.50) scale(1.0,1)" font-size="12" text-anchor="middle" font-weight="bold" fill="#1c1c1c" stroke="#1c1c1c" stroke-width="0.2" >(c)</text>
<text transform="translate(154.5,360) rotate(-90)" font-size="12" font-weight="bold" text-anchor="middle" fill="#1c1c1c" stroke="#1c1c1c" stroke-width="0.2">b*</text>
</svg>
</body></html>
